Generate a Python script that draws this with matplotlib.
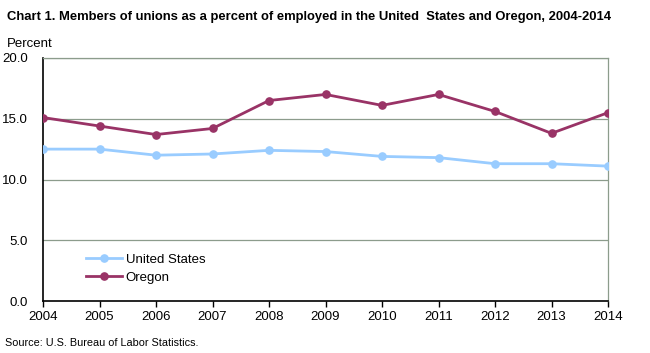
import matplotlib
matplotlib.use("Agg")
import matplotlib.pyplot as plt

years = [2004, 2005, 2006, 2007, 2008, 2009, 2010, 2011, 2012, 2013, 2014]
us = [12.5, 12.5, 12.0, 12.1, 12.4, 12.3, 11.9, 11.8, 11.3, 11.3, 11.1]
oregon = [15.1, 14.4, 13.7, 14.2, 16.5, 17.0, 16.1, 17.0, 15.6, 13.8, 15.5]
yticks = [0.0, 5.0, 10.0, 15.0, 20.0]

plt.rcParams['font.family'] = ['Liberation Sans', 'DejaVu Sans']

fig = plt.figure(figsize=(6.5, 3.53), dpi=100)
ax = fig.add_axes([43/650, 52/353, 565/650, 243/353])

grid_c = '#8c9c8c'
for v in yticks[1:]:
    ax.axhline(v, color=grid_c, lw=0.9, zorder=1)

ax.plot(years, us, color='#99ccff', lw=2, marker='o', ms=5.2, label='United States', zorder=3)
ax.plot(years, oregon, color='#993366', lw=2, marker='o', ms=5.2, label='Oregon', zorder=3)

ax.set_xlim(2004, 2014)
ax.set_ylim(0, 20)
ax.set_xticks(years)
ax.set_xticklabels([str(y) for y in years], fontsize=9.5)
ax.set_yticks(yticks)
ax.set_yticklabels([f"{v:.1f}" for v in yticks], fontsize=9.5)
ax.tick_params(axis='y', length=0, pad=11)
ax.tick_params(axis='x', direction='out', length=4, width=1, pad=3)

for s in ['left', 'bottom']:
    ax.spines[s].set_color('black')
    ax.spines[s].set_linewidth(1.2)
for s in ['top', 'right']:
    ax.spines[s].set_color(grid_c)
    ax.spines[s].set_linewidth(0.9)

leg = ax.legend(loc='upper left', bbox_to_anchor=(0.067, 0.217), frameon=False,
                fontsize=9.5, handlelength=2.7, handletextpad=0.3, labelspacing=0.45,
                borderaxespad=0)

fig.text(7/650, 1 - 17/353, 'Chart 1. Members of unions as a percent of employed in the United  States and Oregon, 2004-2014',
         fontsize=9.35, fontweight='bold', va='center', ha='left')
fig.text(7/650, 1 - 44/353, 'Percent', fontsize=9.5, va='center', ha='left')
fig.text(5/650, 1 - 343/353, 'Source: U.S. Bureau of Labor Statistics.', fontsize=7.8, va='center', ha='left')

fig.savefig('out.png', dpi=100)
